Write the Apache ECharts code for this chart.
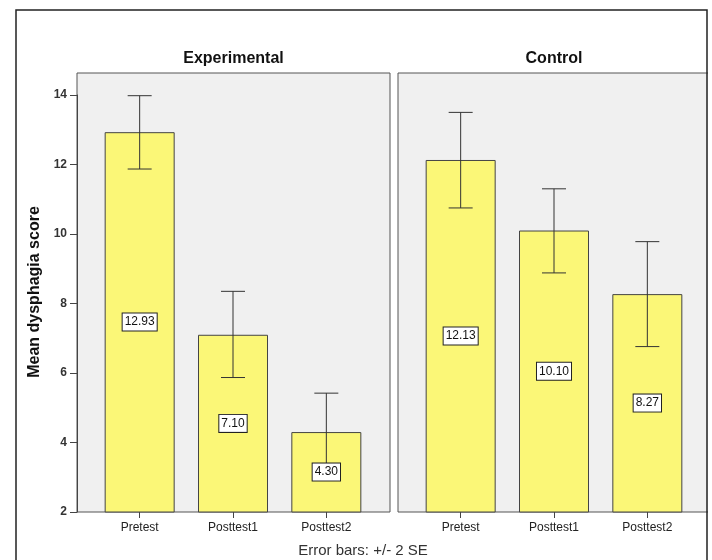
<!DOCTYPE html>
<html>
<head>
<meta charset="utf-8">
<style>
  html, body { margin: 0; padding: 0; background: #fff; }
  #chart { width: 712px; height: 560px; }
</style>
<script src="https://cdn.jsdelivr.net/npm/echarts@6/dist/echarts.min.js"></script>
</head>
<body>
<div id="chart"></div>
<script>
// ---- Data ----
const categories = ['Pretest', 'Posttest1', 'Posttest2'];
const panelTitles = ['Experimental', 'Control'];
const expMeans = [12.93, 7.10, 4.30];
const expLow   = [11.87, 5.87, 3.18];
const expHigh  = [13.98, 8.35, 5.42];
const ctlMeans = [12.13, 10.10, 8.27];
const ctlLow   = [10.75, 8.88, 6.76];
const ctlHigh  = [13.50, 11.30, 9.78];
const yTicks = [2, 4, 6, 8, 10, 12, 14];
const yAxisName = 'Mean dysphagia score';
const footnote = 'Error bars: +/- 2 SE';

const FONT = '"Liberation Sans", Arial, sans-serif';
const BAR_COLOR = '#fbf777';
const PANEL_BG = '#f0f0f0';

const chart = echarts.init(document.getElementById('chart'), null, { renderer: 'canvas' });

function errData(low, high) {
  return low.map((l, i) => [i, l, high[i]]);
}

function errRender(params, api) {
  const x = api.value(0);
  const lo = api.coord([x, api.value(1)]);
  const hi = api.coord([x, api.value(2)]);
  const cap = 12;
  const style = { stroke: '#333', lineWidth: 1, fill: null };
  return {
    type: 'group',
    children: [
      { type: 'line', shape: { x1: hi[0], y1: hi[1], x2: lo[0], y2: lo[1] }, style: style },
      { type: 'line', shape: { x1: hi[0] - cap, y1: hi[1], x2: hi[0] + cap, y2: hi[1] }, style: style },
      { type: 'line', shape: { x1: lo[0] - cap, y1: lo[1], x2: lo[0] + cap, y2: lo[1] }, style: style }
    ]
  };
}

const yMin = yTicks[0], yMax = yTicks[yTicks.length - 1];

const dataYAxis = (show) => ({
  type: 'value', min: yMin, max: yMax, interval: 2, show: show,
  offset: 16,
  axisLine: { show: true, lineStyle: { color: '#444', width: 1 } },
  axisTick: { show: true, length: 7, lineStyle: { color: '#444' } },
  axisLabel: { fontFamily: FONT, fontSize: 12, fontWeight: 'bold', color: '#333', margin: 10 },
  splitLine: { show: false }
});

const dataXAxis = (gi) => ({
  type: 'category', gridIndex: gi, data: categories,
  axisLine: { show: false },
  axisTick: { show: true, alignWithLabel: true, length: 6, lineStyle: { color: '#444' } },
  axisLabel: { fontFamily: FONT, fontSize: 12, color: '#222', margin: 10 }
});

function labelBar(means, xi) {
  return {
    type: 'bar', xAxisIndex: xi, yAxisIndex: xi, data: means, barWidth: 70, barGap: '-100%',
    itemStyle: { color: 'rgba(0,0,0,0)', borderWidth: 0 },
    z: 5,
    silent: true,
    label: {
      show: true, position: 'inside',
      formatter: (p) => p.value.toFixed(2),
      fontFamily: FONT, fontSize: 12, color: '#111',
      backgroundColor: '#fff', borderColor: '#222', borderWidth: 1,
      padding: [3, 2, 2, 2]
    }
  };
}

function mainBar(means, xi) {
  return {
    type: 'bar', xAxisIndex: xi, yAxisIndex: xi, data: means, barWidth: 70,
    itemStyle: { color: BAR_COLOR, borderColor: '#444', borderWidth: 1 },
    z: 2
  };
}

function errSeries(low, high, xi) {
  return {
    type: 'custom', xAxisIndex: xi, yAxisIndex: xi, data: errData(low, high),
    renderItem: errRender, z: 3, clip: false, silent: true
  };
}

const option = {
  animation: false,
  backgroundColor: '#fff',
  grid: [
    { left: 93, top: 95, width: 280, height: 417 },
    { left: 414, top: 95, width: 280, height: 417 },
    { left: 77, top: 73, width: 313, height: 439, show: true, backgroundColor: PANEL_BG, borderColor: '#555', borderWidth: 1, z: 0 },
    { left: 398, top: 73, width: 313, height: 439, show: true, backgroundColor: PANEL_BG, borderColor: '#555', borderWidth: 1, z: 0 }
  ],
  xAxis: [
    dataXAxis(0),
    dataXAxis(1),
    { type: 'value', gridIndex: 2, show: false },
    { type: 'value', gridIndex: 3, show: false }
  ],
  yAxis: [
    Object.assign({ gridIndex: 0 }, dataYAxis(true)),
    Object.assign({ gridIndex: 1 }, dataYAxis(false)),
    { type: 'value', gridIndex: 2, show: false },
    { type: 'value', gridIndex: 3, show: false }
  ],
  graphic: [
    { type: 'rect', shape: { x: 708, y: 0, width: 10, height: 560 }, style: { fill: '#fff' }, z: 90, silent: true },
    { type: 'rect', shape: { x: 16, y: 10, width: 691, height: 600 }, style: { fill: null, stroke: '#222', lineWidth: 1.5 }, z: 100, silent: true },
    { type: 'text', x: 233.5, y: 59, style: { text: panelTitles[0], font: 'bold 16px ' + FONT, fill: '#111', align: 'center', verticalAlign: 'middle' }, z: 100 },
    { type: 'text', x: 554, y: 59, style: { text: panelTitles[1], font: 'bold 16px ' + FONT, fill: '#111', align: 'center', verticalAlign: 'middle' }, z: 100 },
    { type: 'text', x: 35, y: 292, rotation: Math.PI / 2, style: { text: yAxisName, font: 'bold 16px ' + FONT, fill: '#111', align: 'center', verticalAlign: 'middle' }, z: 100 },
    { type: 'text', x: 363, y: 551, style: { text: footnote, font: '15px ' + FONT, fill: '#333', align: 'center', verticalAlign: 'middle' }, z: 100 }
  ],
  series: [
    mainBar(expMeans, 0),
    errSeries(expLow, expHigh, 0),
    labelBar(expMeans, 0),
    mainBar(ctlMeans, 1),
    errSeries(ctlLow, ctlHigh, 1),
    labelBar(ctlMeans, 1)
  ]
};

chart.setOption(option);
</script>
</body>
</html>
